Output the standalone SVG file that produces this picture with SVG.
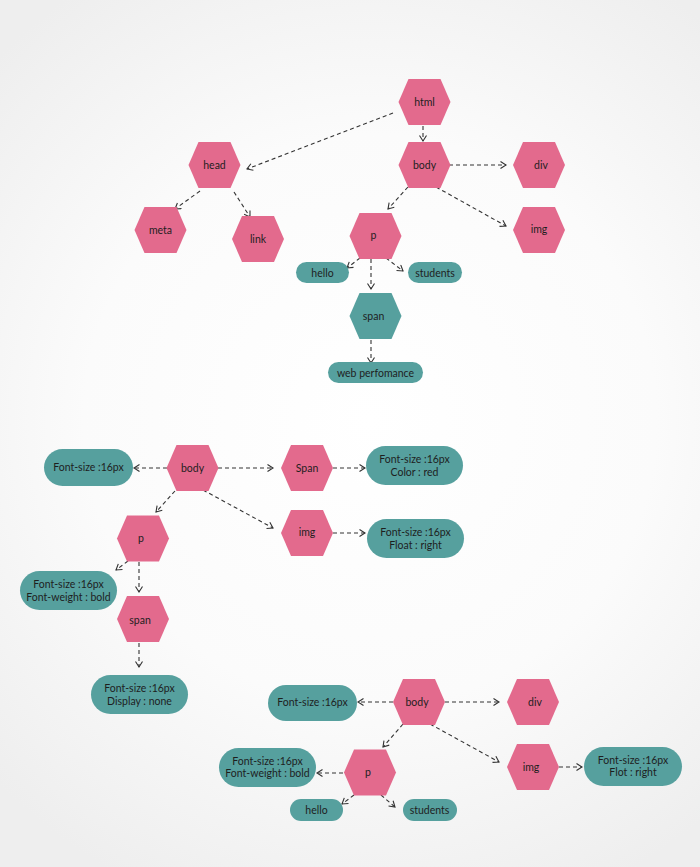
<svg xmlns="http://www.w3.org/2000/svg" width="700" height="867" viewBox="0 0 700 867">
<defs>
<radialGradient id="bg" cx="370" cy="420" r="520" gradientUnits="userSpaceOnUse">
<stop offset="0" stop-color="#ffffff"/>
<stop offset="0.55" stop-color="#fbfbfb"/>
<stop offset="1" stop-color="#eeeeee"/>
</radialGradient>
<polygon id="hex" points="-26,0 -16,-23 16,-23 26,0 16,23 -16,23"/>
<marker id="arr" markerWidth="10" markerHeight="10" refX="7" refY="4" orient="auto" markerUnits="userSpaceOnUse">
<path d="M1.5,0.5 L7,4 L1.5,7.5" fill="none" stroke="#333" stroke-width="1.1"/>
</marker>
</defs>
<style>
.pk{fill:#e36a8d}
.tl{fill:#56a09e}
text{font-family:Lato,"Open Sans","Liberation Sans",sans-serif;font-size:10.5px;fill:#1e1e1e;text-anchor:middle}
.c line{stroke:#333;stroke-width:1.1;stroke-dasharray:4 3;marker-end:url(#arr);fill:none}
</style>
<rect width="700" height="867" fill="url(#bg)"/>

<g class="c" id="connectors">
<line x1="393" y1="113" x2="247" y2="169"/>
<line x1="423" y1="126" x2="423" y2="141"/>
<line x1="449" y1="165" x2="506" y2="165"/>
<line x1="408" y1="187" x2="388" y2="209"/>
<line x1="436" y1="187" x2="506" y2="226"/>
<line x1="200" y1="191" x2="175" y2="209"/>
<line x1="234" y1="192" x2="250" y2="217"/>
<line x1="360" y1="258" x2="347" y2="268"/>
<line x1="386" y1="258" x2="403" y2="271"/>
<line x1="371" y1="259" x2="371" y2="289"/>
<line x1="371" y1="340" x2="371" y2="363"/>

<line x1="167" y1="468" x2="134" y2="468"/>
<line x1="218" y1="468" x2="273" y2="468"/>
<line x1="333" y1="468" x2="365" y2="468"/>
<line x1="175" y1="491" x2="156" y2="512"/>
<line x1="203" y1="490" x2="273" y2="528"/>
<line x1="333" y1="533" x2="365" y2="533"/>
<line x1="128" y1="561" x2="116" y2="570"/>
<line x1="139" y1="562" x2="139" y2="592"/>
<line x1="139" y1="643" x2="139" y2="667"/>

<line x1="393" y1="702" x2="358" y2="702"/>
<line x1="445" y1="702" x2="499" y2="702"/>
<line x1="403" y1="724" x2="383" y2="747"/>
<line x1="430" y1="724" x2="499" y2="762"/>
<line x1="343" y1="773" x2="317" y2="773"/>
<line x1="354" y1="795" x2="342" y2="804"/>
<line x1="381" y1="795" x2="395" y2="807"/>
<line x1="559" y1="767" x2="582" y2="767"/>
</g>

<g id="t-html"><use href="#hex" class="pk" x="424.5" y="102"/><text x="424.5" y="106">html</text></g>
<g id="t-head"><use href="#hex" class="pk" x="214.5" y="165"/><text x="214.5" y="169">head</text></g>
<g id="t-body"><use href="#hex" class="pk" x="424.5" y="165"/><text x="424.5" y="169">body</text></g>
<g id="t-div"><use href="#hex" class="pk" x="539" y="165"/><text x="541" y="169">div</text></g>
<g id="t-meta"><use href="#hex" class="pk" x="160.5" y="230"/><text x="160.5" y="234">meta</text></g>
<g id="t-link"><use href="#hex" class="pk" x="258" y="239"/><text x="258" y="243">link</text></g>
<g id="t-img"><use href="#hex" class="pk" x="539" y="230"/><text x="539" y="233">img</text></g>
<g id="t-p"><use href="#hex" class="pk" x="375.5" y="236"/><text x="373.5" y="239">p</text></g>
<g id="t-hello"><rect class="tl" x="296" y="262" width="53" height="21" rx="10.5"/><text x="322.5" y="276.5">hello</text></g>
<g id="t-students"><rect class="tl" x="408" y="262" width="54" height="21" rx="10.5"/><text x="435" y="276.5">students</text></g>
<g id="t-span"><use href="#hex" class="tl" x="375.5" y="316"/><text x="373.5" y="320">span</text></g>
<g id="t-web"><rect class="tl" x="328" y="362" width="95" height="21" rx="10.5"/><text x="375.5" y="376.5">web perfomance</text></g>

<g id="m-fs"><rect class="tl" x="44" y="449" width="89" height="37" rx="18.5"/><text x="88.5" y="471">Font-size :16px</text></g>
<g id="m-body"><use href="#hex" class="pk" x="192.5" y="468"/><text x="192.5" y="471.5">body</text></g>
<g id="m-span"><use href="#hex" class="pk" x="307" y="468"/><text x="307" y="471.5">Span</text></g>
<g id="m-spanstyle"><rect class="tl" x="366" y="446" width="97" height="39" rx="19.5"/><text x="414.5" y="463">Font-size :16px</text><text x="414.5" y="475.5">Color : red</text></g>
<g id="m-p"><use href="#hex" class="pk" x="143" y="538.5"/><text x="141" y="542">p</text></g>
<g id="m-img"><use href="#hex" class="pk" x="307" y="533"/><text x="307" y="536">img</text></g>
<g id="m-imgstyle"><rect class="tl" x="367" y="519" width="97" height="39" rx="19.5"/><text x="415.5" y="536">Font-size :16px</text><text x="415.5" y="549">Float : right</text></g>
<g id="m-pstyle"><rect class="tl" x="20" y="571" width="97" height="39" rx="19.5"/><text x="68.5" y="588">Font-size :16px</text><text x="68.5" y="600.5">Font-weight : bold</text></g>
<g id="m-spanhex"><use href="#hex" class="pk" x="143" y="619"/><text x="140" y="624">span</text></g>
<g id="m-disp"><rect class="tl" x="91" y="675" width="97" height="39" rx="19.5"/><text x="139.5" y="692">Font-size :16px</text><text x="139.5" y="704.5">Display : none</text></g>

<g id="b-fs"><rect class="tl" x="268" y="685" width="89" height="36" rx="18"/><text x="312.5" y="706">Font-size :16px</text></g>
<g id="b-body"><use href="#hex" class="pk" x="419" y="702"/><text x="417" y="705.5">body</text></g>
<g id="b-div"><use href="#hex" class="pk" x="533" y="702"/><text x="535" y="705.5">div</text></g>
<g id="b-pstyle"><rect class="tl" x="219" y="748" width="97" height="39" rx="19.5"/><text x="267.5" y="764.5">Font-size :16px</text><text x="267.5" y="777">Font-weight : bold</text></g>
<g id="b-p"><use href="#hex" class="pk" x="370" y="772.5"/><text x="368" y="776">p</text></g>
<g id="b-img"><use href="#hex" class="pk" x="533" y="767"/><text x="531" y="770.5">img</text></g>
<g id="b-imgstyle"><rect class="tl" x="584" y="747" width="98" height="39" rx="19.5"/><text x="633" y="763.5">Font-size :16px</text><text x="633" y="776">Flot : right</text></g>
<g id="b-hello"><rect class="tl" x="290" y="799" width="53" height="22" rx="11"/><text x="316.5" y="814">hello</text></g>
<g id="b-students"><rect class="tl" x="403" y="799" width="54" height="22" rx="11"/><text x="429.5" y="814">students</text></g>
</svg>
